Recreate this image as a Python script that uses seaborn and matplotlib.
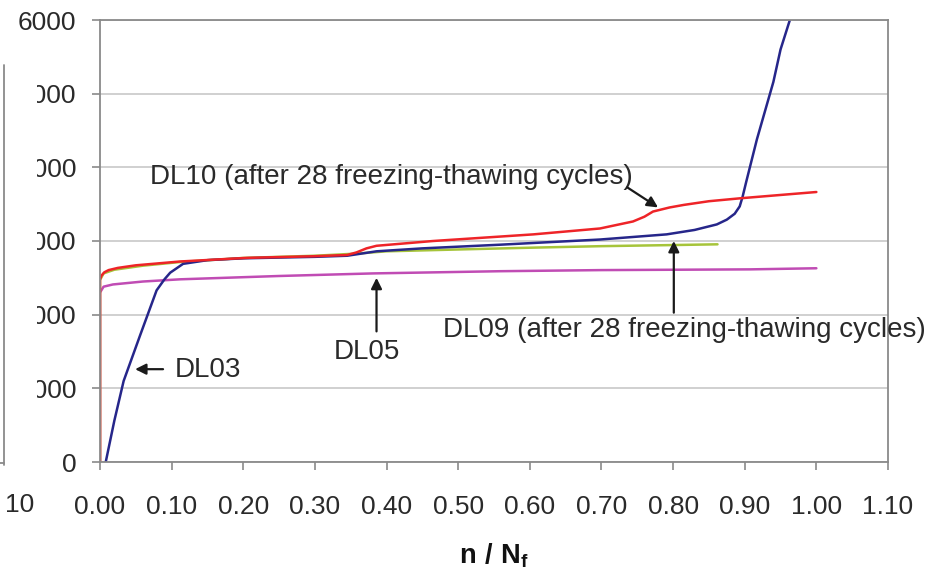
import numpy as np
import pandas as pd
import matplotlib
matplotlib.use("Agg")
import matplotlib.pyplot as plt
from matplotlib.lines import Line2D
from matplotlib.patches import Rectangle
import seaborn as sns

# Curves (n/Nf, value)
dl10_x = [0.0, 0.0, 0.002, 0.006, 0.012, 0.025, 0.05, 0.112, 0.205, 0.298, 0.345, 0.358, 0.372, 0.386,
          0.465, 0.535, 0.605, 0.698, 0.744, 0.76, 0.772, 0.795, 0.815, 0.85, 0.894, 0.95, 1.0]
dl10_y = [0, 2480, 2530, 2575, 2605, 2635, 2670, 2722, 2771, 2793, 2810, 2845, 2900, 2935,
          3000, 3045, 3090, 3170, 3265, 3330, 3400, 3455, 3490, 3540, 3580, 3625, 3665]

dl03_x = [0.008, 0.020, 0.033, 0.056, 0.079, 0.090, 0.098, 0.116, 0.15, 0.20, 0.30, 0.345, 0.386,
          0.45, 0.559, 0.698, 0.791, 0.83, 0.861, 0.875, 0.886, 0.893, 0.897, 0.902, 0.917, 0.94,
          0.95, 0.963]
dl03_y = [0, 560, 1100, 1720, 2330, 2480, 2570, 2690, 2740, 2765, 2785, 2800, 2860,
          2900, 2950, 3020, 3090, 3150, 3225, 3290, 3370, 3470, 3600, 3800, 4380, 5160,
          5600, 6000]

dl05_x = [0.0, 0.0, 0.005, 0.02, 0.06, 0.112, 0.2, 0.3, 0.36, 0.40, 0.5, 0.605, 0.7, 0.8, 0.862]
dl05_y = [0, 2470, 2560, 2610, 2665, 2715, 2770, 2800, 2830, 2860, 2885, 2910, 2930, 2945, 2955]

dl09_x = [0.0, 0.0, 0.005, 0.018, 0.06, 0.112, 0.25, 0.381, 0.559, 0.7, 0.908, 1.0]
dl09_y = [0, 2300, 2380, 2410, 2450, 2480, 2525, 2560, 2590, 2605, 2615, 2630]

x_ticks = [round(0.1 * i, 2) for i in range(12)]
y_ticks = [0, 1000, 2000, 3000, 4000, 5000, 6000]

series = [
    ("DL09", dl09_x, dl09_y, "#c04cb4"),
    ("DL05", dl05_x, dl05_y, "#a6c43a"),
    ("DL03", dl03_x, dl03_y, "#26268a"),
    ("DL10", dl10_x, dl10_y, "#ee2428"),
]

sns.set_theme(style="white")
plt.rcParams['font.family'] = ['Liberation Sans', 'DejaVu Sans']
plt.rcParams['mathtext.fontset'] = 'custom'
plt.rcParams['mathtext.rm'] = 'Liberation Sans'
plt.rcParams['mathtext.bf'] = 'Liberation Sans:bold'

fig = plt.figure(figsize=(9.51, 5.70), dpi=100)
ax = fig.add_axes([100 / 951, 1 - 462 / 570, 788 / 951, 442 / 570])

for name, xs, ys, col in series:
    df = pd.DataFrame({"x": xs, "y": ys})
    sns.lineplot(data=df, x="x", y="y", ax=ax, color=col, lw=1.8,
                 sort=False, estimator=None)

ax.set_xlim(0, 1.1)
ax.set_ylim(0, 6000)
ax.set_xticks(x_ticks)
ax.set_xticklabels([f"{v:.2f}" for v in x_ticks])
ax.set_yticks(y_ticks)
ax.set_yticklabels([str(v) for v in y_ticks])
ax.yaxis.grid(True, color="#c8c8c8", lw=1.2)
ax.xaxis.grid(False)
for s in ax.spines.values():
    s.set_color("#8a8a8a")
    s.set_linewidth(1.3)
ax.tick_params(axis="both", direction="out", length=6, width=1.2, color="#8a8a8a",
               labelsize=19, labelcolor="#2a2a2a")
ax.tick_params(axis="x", pad=18, bottom=True)
ax.tick_params(axis="y", pad=11, left=True)
ax.set_ylabel("")
ax.set_xlabel(r"$\mathbf{n\ /\ N_f}$", fontsize=19.5, labelpad=16, color="#111111")

arrow = dict(arrowstyle="-|>", color="#1a1a1a", lw=1.6, mutation_scale=16, shrinkA=0, shrinkB=0)
tkw = dict(fontsize=20, color="#2a2a2a", va="center", clip_on=False)

ax.text(0.07, 3864, "DL10 (after 28 freezing-thawing cycles)", ha="left", **tkw)
ax.annotate("", xy=(0.779, 3456), xytext=(0.736, 3728), arrowprops=arrow)

ax.text(0.105, 1252, "DL03", ha="left", **tkw)
ax.annotate("", xy=(0.049, 1260), xytext=(0.088, 1260), arrowprops=arrow)

ax.text(0.372, 1497, "DL05", ha="center", **tkw)
ax.annotate("", xy=(0.386, 2500), xytext=(0.386, 1773), arrowprops=arrow)

ax.text(0.479, 1796, "DL09 (after 28 freezing-thawing cycles)", ha="left", zorder=5, **tkw)
ax.annotate("", xy=(0.801, 3000), xytext=(0.801, 2027), arrowprops=arrow)

# edge of the neighbouring panel that the crop cuts through
fig.add_artist(Rectangle((0, 1 - 470 / 570), 37 / 951, 410 / 570, transform=fig.transFigure,
                         facecolor="white", edgecolor="none", zorder=10))
fig.add_artist(Line2D([4 / 951, 4 / 951], [1 - 465 / 570, 1 - 65 / 570],
                      transform=fig.transFigure, color="#8a8a8a", lw=1.3, zorder=11))
fig.add_artist(Line2D([0, 4 / 951], [1 - 463 / 570, 1 - 463 / 570],
                      transform=fig.transFigure, color="#8a8a8a", lw=1.3, zorder=11))
fig.text(20 / 951, 1 - 505 / 570, "10", fontsize=19, color="#2a2a2a", ha="center", va="center")

fig.savefig("out.png", dpi=100)
